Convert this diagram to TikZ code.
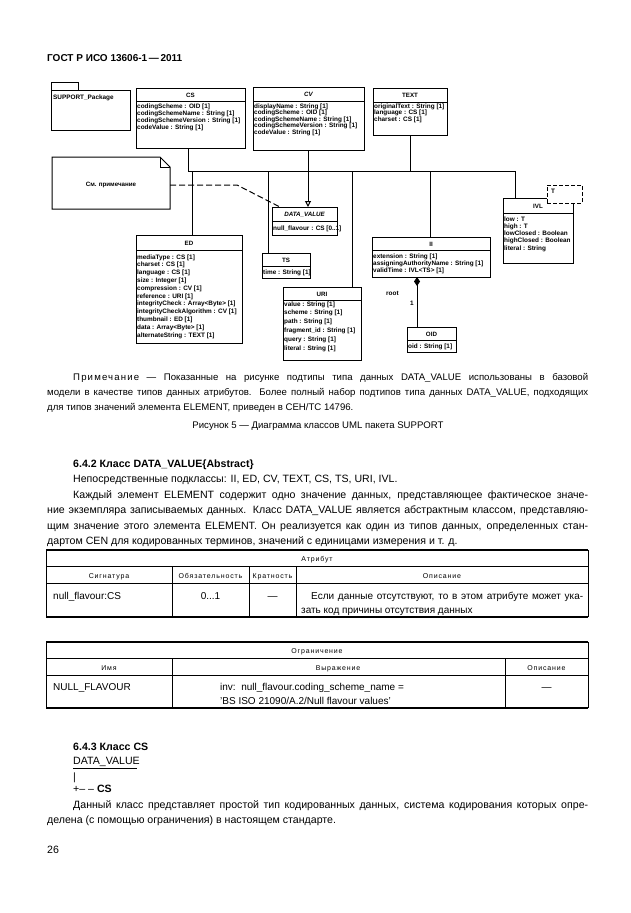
\documentclass[tikz,border=0pt]{standalone}
\usepackage{fontspec}
\setmainfont{Liberation Sans}
\usetikzlibrary{arrows.meta}
\newcommand{\jl}[2]{\hbox to #1pt{#2}}
\newcommand{\spc}[1]{{\addfontfeature{LetterSpace=12}#1}}
\newcommand{\umlrows}[5]{%
  \foreach \t [count=\i from 0] in {#5} {\node[att] (#1-\i) at (#2, #3+\i*#4) {\t};}}
\begin{document}
\begin{tikzpicture}[x=1pt,y=-1pt,
  box/.style={draw, line width=1pt, inner sep=0pt, outer sep=0pt, anchor=north west},
  sepl/.style={line width=0.9pt},
  ttl/.style={font=\fontsize{6.2}{7}\selectfont\bfseries, inner sep=0pt, anchor=base},
  att/.style={font=\fontsize{6.4}{7}\selectfont\bfseries, inner sep=0pt, anchor=base west},
  conn/.style={line width=1pt},
  body/.style={font=\fontsize{10.6}{15}\selectfont, inner sep=0pt, anchor=base west},
  small/.style={font=\fontsize{9.6}{14}\selectfont, inner sep=0pt, anchor=base west},
  thead/.style={font=\fontsize{7}{9}\selectfont, inner sep=0pt, anchor=base},
  tcell/.style={font=\fontsize{10}{14}\selectfont, inner sep=0pt, anchor=base west},
  rule/.style={line width=0.7pt},
  thick rule/.style={line width=1.1pt}]
\useasboundingbox (0,0) rectangle (630,913);
\fill[white] (0,0) rectangle (630,913);

% header
\node[body, font=\fontsize{10}{12}\selectfont\bfseries] (hdr) at (47,61) {ГОСТ Р ИСО 13606-1\,—\,2011};

% ---------------- UML diagram ----------------
% package
\node[box, minimum width=27pt, minimum height=8pt] (pkgtab) at (51,82) {};
\node[box, minimum width=79pt, minimum height=40pt] (pkg) at (51,90) {};
\node[att] (pkgname) at (53,99) {SUPPORT\_Package};

% CS
\node[box, minimum width=109pt, minimum height=60pt] (cs) at (136,88) {};
\node[ttl] (cs-t) at (190.5,97) {CS};
\draw[sepl] (136,101) -- (245,101);
\umlrows{csr}{137}{108}{7}{codingScheme : OID [1],codingSchemeName : String [1],codingSchemeVersion : String [1],codeValue : String [1]}

% CV
\node[box, minimum width=111pt, minimum height=63pt] (cv) at (253,87) {};
\node[ttl, font=\fontsize{6.2}{7}\selectfont\bfseries\itshape] (cv-t) at (308.5,96) {CV};
\draw[sepl] (253,101) -- (364,101);
\umlrows{cvr}{254}{108}{6.6}{displayName : String [1],codingScheme : OID [1],codingSchemeName : String [1],codingSchemeVersion : String [1],codeValue : String [1]}

% TEXT
\node[box, minimum width=74pt, minimum height=47pt] (text) at (373,88) {};
\node[ttl] (text-t) at (410,97) {TEXT};
\draw[sepl] (373,102) -- (447,102);
\umlrows{txr}{374}{108}{6.6}{originalText : String [1],language : CS [1],charset : CS [1]}

% note
\draw[line width=1pt] (52,157) -- (160,157) -- (170,167) -- (170,209) -- (52,209) -- cycle;
\draw[line width=1pt] (160,157) -- (160,167) -- (170,167);
\node[ttl] (note) at (111,186) {См. примечание};
\coordinate (noteR) at (170,185);

% DATA_VALUE
\node[box, minimum width=65pt, minimum height=28pt] (dv) at (272,207) {};
\node[ttl, font=\fontsize{6.2}{7}\selectfont\bfseries\itshape] (dv-t) at (304.5,216) {DATA\_VALUE};
\draw[sepl] (272,221) -- (337,221);
\umlrows{dvr}{273}{230}{7}{null\_flavour : CS [0..1]}

% TS
\node[box, minimum width=48pt, minimum height=25pt] (ts) at (262,253) {};
\node[ttl] (ts-t) at (286,262) {TS};
\draw[sepl] (262,266) -- (310,266);
\umlrows{tsr}{263}{274}{7}{time : String [1]}

% ED
\node[box, minimum width=106pt, minimum height=108pt] (ed) at (136,235) {};
\node[ttl] (ed-t) at (189,245) {ED};
\draw[sepl] (136,250) -- (242,250);
\umlrows{edr}{137}{259}{7.8}{mediaType : CS [1],charset : CS [1],language : CS [1],size : Integer [1],compression : CV [1],reference : URI [1],integrityCheck : Array<Byte> [1],integrityCheckAlgorithm : CV [1],thumbnail : ED [1],data : Array<Byte> [1],alternateString : TEXT [1]}

% URI
\node[box, minimum width=78pt, minimum height=73pt] (uri) at (283,287) {};
\node[ttl] (uri-t) at (322,296) {URI};
\draw[sepl] (283,300) -- (361,300);
\umlrows{urir}{284}{306}{8.8}{value : String [1],scheme : String [1],path : String [1],fragment\_id : String [1],query : String [1],literal : String [1]}

% II
\node[box, minimum width=118pt, minimum height=40pt] (ii) at (372,237) {};
\node[ttl] (ii-t) at (431,246) {II};
\draw[sepl] (372,250) -- (490,250);
\umlrows{iir}{373}{258}{7}{extension : String [1],assigningAuthorityName : String [1],validTime : IVL<TS> [1]}

% IVL
\node[box, minimum width=70pt, minimum height=65pt] (ivl) at (503,198) {};
\node[ttl] (ivl-t) at (538,208) {IVL};
\draw[sepl] (503,213) -- (573,213);
\umlrows{ivlr}{504}{221}{7.3}{low : T,high : T,lowClosed : Boolean,highClosed : Boolean,literal : String}
\node[box, minimum width=35pt, minimum height=18pt, fill=white, dashed, dash pattern=on 4pt off 2pt] (tpl) at (547,185) {};
\node[att] (tpl-t) at (551,193) {T};

% OID
\node[box, minimum width=49pt, minimum height=25pt] (oid) at (407,327) {};
\node[ttl] (oid-t) at (431.5,336) {OID};
\draw[sepl] (407,340) -- (456,340);
\umlrows{oidr}{408}{348}{7}{oid : String [1]}

% connectors (generalisation bus)
\coordinate (bCS) at (188,171);
\coordinate (bED) at (192,171);
\coordinate (bTS) at (268,171);
\coordinate (bDV) at (308,171);
\coordinate (bURI) at (352,171);
\coordinate (bTX) at (410,171);
\coordinate (bII) at (430,171);
\coordinate (bIVL) at (515,171);
\draw[conn] (bCS) -- (bIVL);
\draw[conn] (bCS) -- (bCS |- cs.south);
\draw[conn] (bDV |- cv.south) -- (bDV);
\draw[conn] (bTX) -- (bTX |- text.south);
\draw[conn] (bED) -- (bED |- ed.north);
\draw[conn] (bTS) -- (bTS |- ts.north);
\draw[conn] (bURI) -- (bURI |- uri.north);
\draw[conn] (bII) -- (bII |- ii.north);
\draw[conn] (bIVL) -- (bIVL |- ivl.north);
\draw[conn, -{Triangle[open, length=6pt, width=6pt]}] (bDV) -- (bDV |- dv.north);
% note link
\coordinate (nk) at (237,185);
\draw[conn, dash pattern=on 6pt off 3pt] (noteR) -- (nk) -- (280,207);
% composition
\coordinate (cmp) at (417,277);
\draw[conn, {Diamond[length=9pt, width=6pt]}-] (cmp) -- (cmp |- oid.north);
\node[att] (root) at (386,295) {root};
\node[att] (one) at (410,305) {1};

% ---------------- Text ----------------
\node[small] (n1) at (73,380) {\jl{515}{\spc{Примечание} — Показанные на рисунке подтипы типа данных DATA\_VALUE использованы в базовой}};
\node[small] (n2) at (47,395) {\jl{541}{модели в качестве типов данных атрибутов. Более полный набор подтипов типа данных DATA\_VALUE, подходящих}};
\node[small] (n3) at (47,410) {для типов значений элемента ELEMENT, приведен в СЕН/ТС 14796.};
\node[small, anchor=base] (cap) at (318,428) {Рисунок 5 — Диаграмма классов UML пакета SUPPORT};

\node[body, font=\fontsize{10.6}{15}\selectfont\bfseries] (s642) at (73,467) {6.4.2 Класс DATA\_VALUE\{Abstract\}};
\node[body] (p0) at (73,482) {Непосредственные подклассы: II, ED, CV, TEXT, CS, TS, URI, IVL.};
\node[body] (p1) at (73,498) {\jl{515}{Каждый элемент ELEMENT содержит одно значение данных, представляющее фактическое значе-}};
\node[body] (p2) at (47,513) {\jl{541}{ние экземпляра записываемых данных. Класс DATA\_VALUE является абстрактным классом, представляю-}};
\node[body] (p3) at (47,529) {\jl{541}{щим значение этого элемента ELEMENT. Он реализуется как один из типов данных, определенных стан-}};
\node[body] (p4) at (47,544) {дартом CEN для кодированных терминов, значений с единицами измерения и т. д.};

% table 1
\draw[thick rule] (46,550) -- (588,550);
\draw[rule] (46,566) -- (588,566);
\draw[rule] (46,583) -- (588,583);
\draw[thick rule] (46,617) -- (588,617);
\draw[rule] (46,550) -- (46,617);
\draw[rule] (588,550) -- (588,617);
\draw[rule] (172,566) -- (172,617);
\draw[rule] (249,566) -- (249,617);
\draw[rule] (296,566) -- (296,617);
\node[thead] (t1h) at (317,561) {\spc{Атрибут}};
\node[thead] (t1a) at (109,578) {\spc{Сигнатура}};
\node[thead] (t1b) at (210.5,578) {\spc{Обязательность}};
\node[thead] (t1c) at (272.5,578) {\spc{Кратность}};
\node[thead] (t1d) at (442,578) {\spc{Описание}};
\node[tcell] (t1r1) at (53,599) {null\_flavour:CS};
\node[tcell, anchor=base] (t1r2) at (210.5,599) {0...1};
\node[tcell, anchor=base] (t1r3) at (272.5,599) {—};
\node[tcell] (t1r4) at (311,599) {\jl{272}{Если данные отсутствуют, то в этом атрибуте может ука-}};
\node[tcell] (t1r5) at (301,613) {зать код причины отсутствия данных};

% table 2
\draw[thick rule] (46,642) -- (588,642);
\draw[rule] (46,658) -- (588,658);
\draw[rule] (46,675) -- (588,675);
\draw[thick rule] (46,708) -- (588,708);
\draw[rule] (46,642) -- (46,708);
\draw[rule] (588,642) -- (588,708);
\draw[rule] (172,658) -- (172,708);
\draw[rule] (505,658) -- (505,708);
\node[thead] (t2h) at (317,653) {\spc{Ограничение}};
\node[thead] (t2a) at (109,670) {\spc{Имя}};
\node[thead] (t2b) at (338,670) {\spc{Выражение}};
\node[thead] (t2c) at (546.5,670) {\spc{Описание}};
\node[tcell] (t2r1) at (53,690) {NULL\_FLAVOUR};
\node[tcell] (t2r2) at (220,690) {inv:\ \ null\_flavour.coding\_scheme\_name =};
\node[tcell] (t2r3) at (220,704) {'BS ISO 21090/A.2/Null flavour values'};
\node[tcell, anchor=base] (t2r4) at (546.5,690) {—};

% 6.4.3
\node[body, font=\fontsize{10.6}{15}\selectfont\bfseries] (s643) at (73,750) {6.4.3 Класс CS};
\node[body] (dvl) at (73,764) {DATA\_VALUE};
\draw[line width=0.6pt] (dvl.south west) ++(0,1.5) -- ++(64,0);
\node[body] (bar) at (73,780) {|};
\node[body] (plus) at (73,792) {+– – \textbf{CS}};
\node[body] (b1) at (73,808) {\jl{515}{Данный класс представляет простой тип кодированных данных, система кодирования которых опре-}};
\node[body] (b2) at (47,823) {делена (с помощью ограничения) в настоящем стандарте.};
\node[body] (pg) at (47,853) {26};
\end{tikzpicture}
\end{document}
